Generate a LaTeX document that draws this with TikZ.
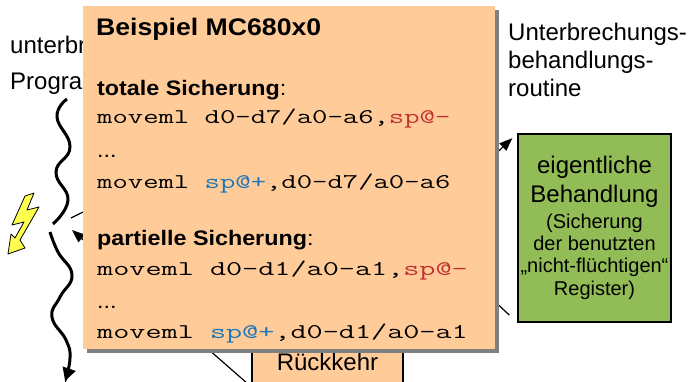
\documentclass[tikz,border=0pt]{standalone}
\usepackage{fontspec}
\setmainfont{Liberation Sans}
\usepackage{graphicx}
\usetikzlibrary{arrows.meta}

\definecolor{pfirsich}{RGB}{255,204,153}
\definecolor{gruenbox}{RGB}{146,189,86}
\definecolor{kodered}{RGB}{192,50,50}
\definecolor{kodeblue}{RGB}{30,118,184}
\definecolor{blitzgelb}{RGB}{255,255,80}

% stretched text inside the example box
\newcommand{\breit}[1]{\scalebox{1.11}[1]{#1}}
\newcommand{\kode}[2][1.42]{\scalebox{#1}[1]{\fontsize{21}{25}\ttfamily #2}}

\begin{document}
\begin{tikzpicture}[x=1pt,y=-1pt,
    txt/.style={inner sep=0pt, anchor=base west, font=\fontsize{24}{28}\selectfont},
    klein/.style={inner sep=0pt, anchor=base, font=\fontsize{20}{23}\selectfont},
    titel/.style={inner sep=0pt, anchor=base west, font=\fontsize{24}{28}\selectfont\bfseries},
    kopf/.style={inner sep=0pt, anchor=base west, font=\fontsize{21}{25}\selectfont},
    kodezeile/.style={inner sep=0pt, anchor=base west},
    welle/.style={line width=3pt},
    verbindung/.style={line width=1.2pt},
    pfeil/.style={-{Triangle[length=13pt,width=10pt]}}]
    \useasboundingbox (0,0) rectangle (690,381);
    \clip (0,0) rectangle (690,381);

    % Labels
    \node[txt] (prog1) at (10,53) {unterbrochenes};
    \node[txt] (prog2) at (10,89) {Programm};
    \node[txt] (rout1) at (508,40) {Unterbrechungs-};
    \node[txt] (rout2) at (508,68) {behandlungs-};
    \node[txt] (rout3) at (508,96.5) {routine};

    % Interrupted program
    \draw[welle] plot[smooth, tension=0.8] coordinates {(67,99) (57,117) (70,147) (56,172) (68,200) (53,224)};
    \draw[welle, -{Triangle[length=13pt,width=13pt]}] plot[smooth, tension=0.8] coordinates {(50,232) (58,252) (72,275) (60,297) (52,317) (66,340) (70,358) (65,381)};

    % Lightning
    \draw[fill=blitzgelb, line width=0.8pt, line join=round] (25,196) -- (34,193) -- (27,210) -- (39,207) -- (20,240) -- (25,248) -- (8,254) -- (11,234) -- (15,238) -- (24,222) -- (12,225) -- cycle;

    % Boxes
    \node[draw, line width=1.2pt, fill=gruenbox, minimum width=153pt, minimum height=188pt] (behandlung) at (594.5,228) {};
    \node[txt, anchor=base] (eig1) at (594.5,173) {eigentliche};
    \node[txt, anchor=base] (eig2) at (594.5,202) {Behandlung};
    \foreach \y/\zeile [count=\i] in {228/(Sicherung, 250/der benutzten, 272/„nicht-flüchtigen“, 295/Register)} {
        \node[klein] (klein\i) at (594.5,\y) {\zeile};
    }
    \node[draw, line width=1.2pt, fill=pfirsich, minimum width=151pt, minimum height=80pt, font=\fontsize{24}{28}\selectfont] (rueckkehr) at (327.5,362) {Rückkehr};

    % Connectors
    \coordinate (unterbrechung) at (71,218);
    \coordinate (einsprung) at (200,154);
    \coordinate (ruecksprung) at (72,230);
    \coordinate (rkfuss) at (248,384);
    \coordinate (aufruf) at (440,206);
    \coordinate (rueckgabe) at (446,256);
    \draw[verbindung] (unterbrechung) -- (einsprung);
    \draw[verbindung, pfeil] (rkfuss) -- (ruecksprung);
    \draw[verbindung, pfeil, shorten >=7pt] (aufruf) -- (behandlung.north west);
    \draw[verbindung, shorten <=11pt] (behandlung.south west) -- (rueckgabe);

    % Example box with shadow
    \node[fill=black!50, minimum width=412pt, minimum height=343pt, inner sep=0pt] (schatten) at (293,181.5) {};
    \node[fill=pfirsich, minimum width=412pt, minimum height=343pt, inner sep=0pt] (beispiel) at (289,177.5) {};

    \node[titel] (titel) at (96,35) {\breit{Beispiel MC680x0}};

    % totale Sicherung
    \node[kopf] (total) at (97,95) {\breit{\textbf{totale Sicherung}:}};
    \node[kodezeile] (total1) at (97,123) {\kode{moveml d0-d7/a0-a6,\textcolor{kodered}{sp@-}}};
    \node[kopf] (total2) at (97,157) {\breit{...}};
    \node[kodezeile] (total3) at (97,188) {\kode{moveml \textcolor{kodeblue}{sp@+},d0-d7/a0-a6}};

    % partielle Sicherung
    \node[kopf] (partiell) at (97,245) {\breit{\textbf{partielle Sicherung}:}};
    \node[kodezeile] (partiell1) at (97,275) {\kode[1.49]{moveml d0-d1/a0-a1,\textcolor{kodered}{sp@-}}};
    \node[kopf] (partiell2) at (97,308) {\breit{...}};
    \node[kodezeile] (partiell3) at (97,338) {\kode[1.49]{moveml \textcolor{kodeblue}{sp@+},d0-d1/a0-a1}};
\end{tikzpicture}
\end{document}
